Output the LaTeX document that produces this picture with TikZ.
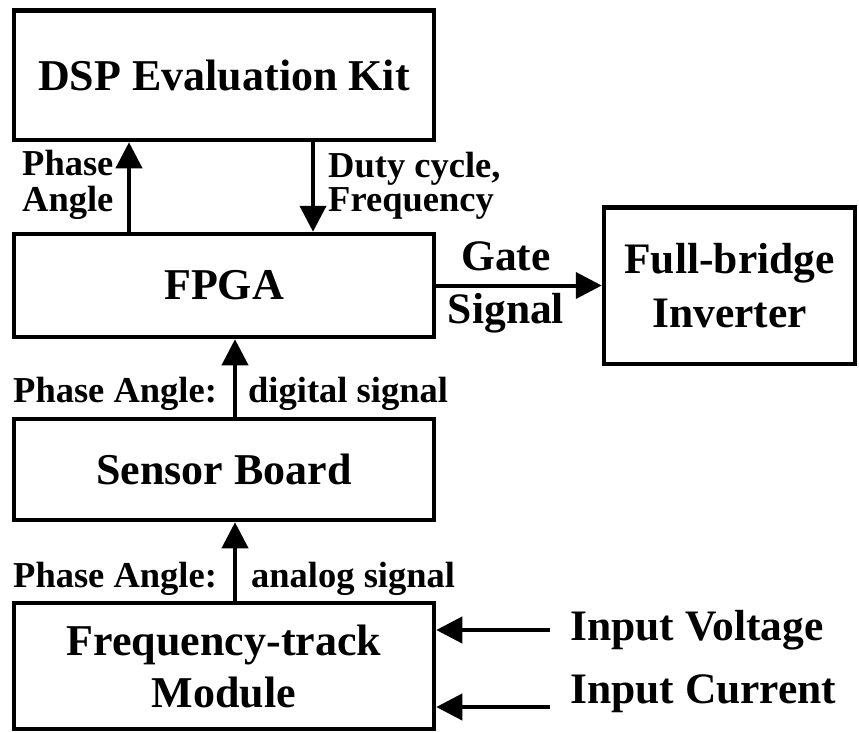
\documentclass[tikz,border=0pt]{standalone}
\usepackage{fontspec}
\setmainfont{Liberation Serif}
\usetikzlibrary{arrows.meta}
\begin{document}
\begin{tikzpicture}[x=1pt,y=-1pt,
  blk/.style={draw, line width=4.5pt, inner sep=0pt, align=center,
    font=\bfseries\fontsize{44}{52}\selectfont},
  big/.style={inner sep=0pt, font=\bfseries\fontsize{43.5}{52}\selectfont},
  lbl/.style={inner sep=0pt, font=\bfseries\fontsize{36.5}{40}\selectfont},
  arr/.style={line width=4pt, -{Triangle[length=26pt,width=26pt]}}]
\useasboundingbox (0,0) rectangle (859,732);
% boxes
\node[blk, minimum width=420pt, minimum height=129.5pt] (dsp) at (224,75.25) {DSP Evaluation Kit};
\node[blk, minimum width=420pt, minimum height=103pt] (fpga) at (224,285.5) {FPGA};
\node[blk, minimum width=251pt, minimum height=156.5pt,
  font=\bfseries\fontsize{43.5}{54}\selectfont] (fb) at (729.5,285.75) {Full-bridge\\Inverter};
\node[blk, minimum width=420pt, minimum height=101pt] (sb) at (224,469.5) {Sensor Board};
\node[blk, minimum width=420pt, minimum height=126pt,
  font=\bfseries\fontsize{44}{52}\selectfont] (ft) at (224,666) {Frequency-track\\Module};
% labels
\node[lbl, anchor=base west] (pa1) at (22,175) {Phase};
\node[lbl, anchor=base west] (pa2) at (22,211) {Angle};
\node[lbl, anchor=base west] (dc1) at (328,177) {Duty cycle,};
\node[lbl, anchor=base west] (dc2) at (328,211) {Frequency};
\node[big, anchor=base] (g1) at (506,270) {Gate};
\node[big, anchor=base] (g2) at (506,323) {Signal};
\node[lbl, anchor=base west] (d1) at (13,402) {Phase Angle:};
\node[lbl, anchor=base west] (d2) at (248,402) {digital signal};
\node[lbl, anchor=base west] (an1) at (13,587) {Phase Angle:};
\node[lbl, anchor=base west] (an2) at (251,587) {analog signal};
\node[big, anchor=base west] (iv) at (570,640) {Input Voltage};
\node[big, anchor=base west] (ic) at (570,703) {Input Current};
% coordinates
\coordinate (xa) at (129,0);
\coordinate (xb) at (313,0);
\coordinate (xc) at (235,0);
\coordinate (iv0) at (550,630);
\coordinate (ic0) at (550,707);
% connectors
\draw[arr] (fpga.north -| xa) -- (dsp.south -| xa);
\draw[arr] (dsp.south -| xb) -- (fpga.north -| xb);
\draw[arr] (fpga.east) -- (fb.west |- fpga.east);
\draw[arr] (sb.north -| xc) -- (fpga.south -| xc);
\draw[arr] (ft.north -| xc) -- (sb.south -| xc);
\draw[arr] (iv0) -- (ft.east |- iv0);
\draw[arr] (ic0) -- (ft.east |- ic0);
\end{tikzpicture}
\end{document}
